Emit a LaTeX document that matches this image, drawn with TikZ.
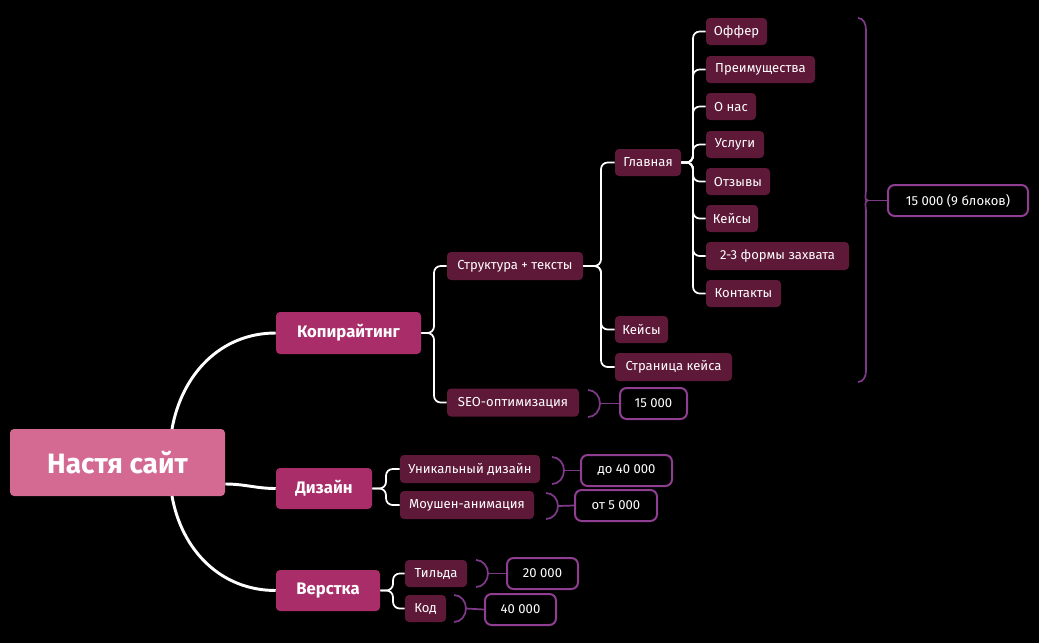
\documentclass[tikz,border=0pt]{standalone}
\usepackage{fontspec}
\setmainfont{Fira Sans}
\begin{document}
\begin{tikzpicture}[x=0.75pt,y=-0.75pt,
  bx/.style 2 args={minimum width=#1*0.75pt, minimum height=#2*0.75pt, inner sep=0pt, rounded corners=3pt, text=white},
  root/.style={fill=rootc, font=\fontsize{21}{24}\selectfont\bfseries},
  lone/.style={fill=lonec, font=\fontsize{12.5}{15}\selectfont\bfseries},
  ltwo/.style={fill=ltwoc, font=\fontsize{9.8}{12}\selectfont},
  num/.style={draw=numc, line width=1.5pt, fill=black, rounded corners=5pt, font=\fontsize{9.8}{12}\selectfont},
  thick1/.style={draw=white, line width=2.2pt},
  thin1/.style={draw=white, line width=1.3pt, rounded corners=5pt},
  brk/.style={draw=brc, line width=1.3pt}]
\definecolor{rootc}{HTML}{D46A92}
\definecolor{lonec}{HTML}{A82D69}
\definecolor{ltwoc}{HTML}{5E1838}
\definecolor{numc}{HTML}{8F3E92}
\definecolor{brc}{HTML}{7E3A88}
\fill[black] (0,0) rectangle (1039,643);
\useasboundingbox (0,0) rectangle (1039,643);

\node[bx={215}{67},root] (r) at (117.5,462.5) {Настя сайт};
\node[bx={145}{42},lone] (k) at (348.5,333) {Копирайтинг};
\node[bx={96}{41},lone] (d) at (324,488.5) {Дизайн};
\node[bx={104}{41},lone] (v) at (328,590.5) {Верстка};

\node[bx={136}{28},ltwo] (st) at (515,266) {Структура + тексты};
\node[bx={132}{28},ltwo] (seo) at (513,402.5) {SEO-оптимизация};
\node[bx={66}{27},ltwo] (gl) at (648,162.5) {Главная};
\node[bx={53}{27},ltwo] (ks) at (641.5,329.5) {Кейсы};
\node[bx={117}{28},ltwo] (sk) at (673.5,367) {Страница кейса};

\node[bx={61}{27},ltwo] (l1) at (736.5,31.5) {Оффер};
\node[bx={109}{27},ltwo] (l2) at (760.5,69.5) {Преимущества};
\node[bx={50}{27},ltwo] (l3) at (731,106.5) {О нас};
\node[bx={58}{27},ltwo] (l4) at (735,144.5) {Услуги};
\node[bx={64}{27},ltwo] (l5) at (738,181.5) {Отзывы};
\node[bx={52}{27},ltwo] (l6) at (732,218.5) {Кейсы};
\node[bx={143}{28},ltwo] (l7) at (777.5,256) {2-3 формы захвата};
\node[bx={75}{27},ltwo] (l8) at (743.5,293.5) {Контакты};

\node[bx={140}{31},num] (n1) at (958,200.5) {15 000 (9 блоков)};
\node[bx={67}{31},num] (n2) at (653.5,403.5) {15 000};

\node[bx={140}{28},ltwo] (ud) at (470,469) {Уникальный дизайн};
\node[bx={134}{28},ltwo] (ma) at (467,505) {Моушен-анимация};
\node[bx={91}{31},num] (n3) at (626.5,470.5) {до 40 000};
\node[bx={82}{31},num] (n4) at (616,505.5) {от 5 000};

\node[bx={62}{27},ltwo] (ti) at (436,573.5) {Тильда};
\node[bx={41}{27},ltwo] (kod) at (425.5,608.5) {Код};
\node[bx={71}{31},num] (n5) at (542.5,573.5) {20 000};
\node[bx={71}{31},num] (n6) at (520.5,609.5) {40 000};

% level-1 curves
\coordinate (rt) at (172,429);
\coordinate (rb) at (172,496);
\draw[thick1] (rt) to[out=80,in=180] (k.west);
\draw[thick1] (r.east|-0,484) to[out=0,in=180] (d.west);
\draw[thick1] (rb) to[out=-80,in=180] (v.west);

% elbow connectors
\draw[thin1] (k.east) -- (434,333) |- (st.west);
\draw[thin1] (k.east) -- (434,333) |- (seo.west);
\foreach \c in {gl,ks,sk}{\draw[thin1] (st.east) -- (601,266) |- (\c.west);}
\foreach \c in {l1,l2,l3,l4,l5,l6,l7,l8}{\draw[thin1] (gl.east) -- (693,162.5) |- (\c.west);}
\foreach \c in {ud,ma}{\draw[thin1] (d.east) -- (386,488.5) |- (\c.west);}
\foreach \c in {ti,kod}{\draw[thin1] (v.east) -- (393,590.5) |- (\c.west);}

% brackets
\coordinate (b1) at (868,200.5);
\draw[brk] (858,18) to[out=0,in=90] (866,30) -- (866,190) to[out=-90,in=180] (b1) to[out=180,in=90] (866,211) -- (866,371) to[out=-90,in=0] (858,382);
\draw[brk] (b1) -- (n1.west);
\newcommand\smallbr[4]{% x0, ytop, ybot, target
  \coordinate (t#4) at (#1+12,{(#2+#3)/2});
  \draw[brk] (#1,#2) to[out=0,in=90] (t#4) to[out=-90,in=0] (#1,#3);
  \draw[brk] (t#4) -- (#4.west);}
\smallbr{588}{390}{417}{n2}
\smallbr{552}{457}{484}{n3}
\smallbr{546}{493}{519}{n4}
\smallbr{476}{560}{587}{n5}
\smallbr{454}{595}{622}{n6}
\end{tikzpicture}
\end{document}
